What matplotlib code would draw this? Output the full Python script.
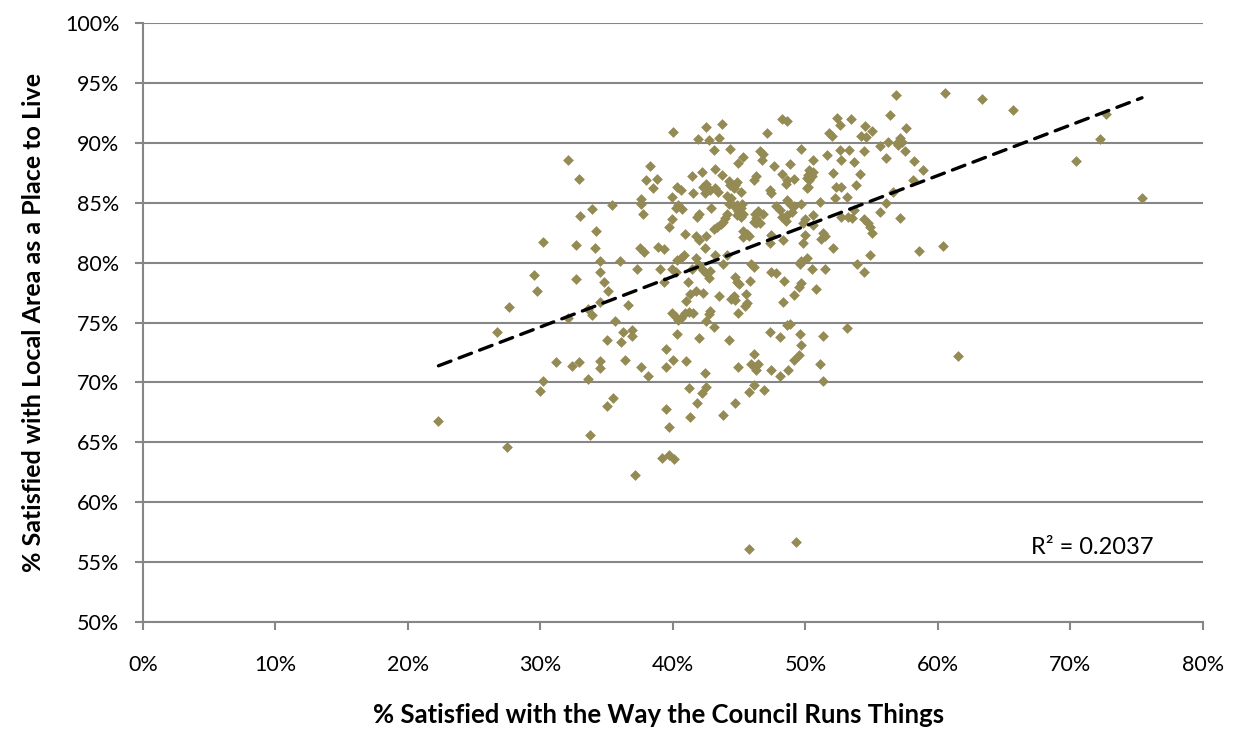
import numpy as np
import matplotlib.pyplot as plt
from matplotlib.ticker import PercentFormatter

# ---- data (percent) ----
council = [
    32.1, 32.9, 33.9, 33.0, 34.2, 30.2, 32.7, 34.1,
    29.5, 29.7, 32.7, 27.6, 33.6, 33.9, 32.1, 26.7, 31.2, 32.4, 32.9, 34.5, 34.5,
    33.6, 30.2, 30.0, 22.3, 34.5, 34.5, 27.5, 33.7,
    36.0, 34.8, 35.1, 37.3, 36.6, 34.5, 35.6, 36.2, 36.9, 36.9, 36.1, 35.0, 36.4,
    37.6, 38.1, 35.5, 35.0,
    39.0, 39.3, 39.9, 40.2, 40.3, 40.6, 40.8, 37.8, 39.3,
    41.7, 42.0, 41.4, 42.3, 42.5, 42.8, 42.7, 43.2, 44.1, 43.8, 41.1, 41.3, 41.7,
    42.3, 41.0, 43.5, 42.8, 42.7,
    39.9, 40.2, 40.4, 40.6, 40.9, 41.2, 41.5, 42.5, 43.1, 40.3, 42.0, 44.2, 39.5,
    40.0, 41.0, 39.5, 42.4, 41.2, 42.5, 42.2, 41.8, 39.5, 41.3, 43.8, 44.7, 45.7,
    46.1, 46.9, 44.9, 46.1, 45.9, 46.2, 46.4, 46.3, 47.4, 48.1, 48.7, 49.1, 49.5,
    47.3, 48.1, 48.6, 48.8, 49.6, 49.5, 49.1, 48.3, 48.4, 47.4, 47.8,
    45.9, 46.1, 44.7, 44.8, 45.0, 45.8, 45.5, 45.6, 45.4, 44.6, 44.7, 44.4, 44.9,
    39.7, 39.2, 39.7, 40.1, 37.1, 45.7, 49.3,
    40.0, 42.5, 43.7, 41.9, 42.7, 43.5, 43.1, 44.3, 47.1, 48.2, 48.6, 46.6, 46.8,
    46.7, 45.3, 44.9, 38.3, 38.0, 38.8, 38.5,
    47.6, 48.8, 48.2, 48.6, 49.1, 48.5, 42.2, 41.4, 43.2, 43.7, 44.2, 44.3, 44.6,
    46.1, 46.3, 40.3, 40.6, 39.9, 40.4, 40.2, 40.7, 41.5, 42.3, 42.5, 42.4, 42.8,
    43.2, 43.4, 44.7, 44.8, 45.1, 44.1, 44.4, 44.2, 44.6, 44.8, 45.1, 45.2, 42.9,
    37.6, 37.6, 37.7, 35.4, 41.8, 42.0, 44.1, 43.9, 43.8, 43.6, 43.3, 43.1, 44.8,
    45.1, 45.3, 44.9, 46.2, 46.4, 46.8, 46.3, 47.8, 48.1, 48.6, 48.8, 49.0, 48.6,
    48.2, 48.5, 49.1, 47.3, 47.4, 39.9, 39.7, 40.9, 41.7, 42.0, 42.5, 45.3, 45.6,
    45.7, 45.3, 46.1, 46.3, 46.6, 47.4, 48.3, 37.5, 38.9, 42.4, 47.3,
    56.8, 60.5, 63.3, 52.4, 52.6, 53.4, 56.4, 54.5, 55.0, 54.6, 54.2, 51.8, 52.0,
    57.6, 57.1, 57.3, 57.0, 56.9, 56.2, 55.6, 49.7, 52.6, 53.3, 52.7, 51.6, 54.4,
    50.6, 53.7, 56.1, 57.5, 58.2, 58.9, 50.3, 50.6, 50.2, 50.1, 50.5, 50.3, 50.2,
    50.1, 52.1, 54.1, 52.3, 52.7, 53.8, 58.1, 56.6, 52.2, 53.1, 51.1, 49.7, 56.1,
    53.7, 52.7, 53.2, 53.5, 55.6, 57.1, 54.4, 54.7, 54.9, 50.6, 50.0, 50.6, 49.8,
    55.0, 51.3, 51.5, 51.2, 50.0, 49.8, 52.1, 58.6, 60.4,
    65.7, 72.7, 72.2, 70.4, 75.4,
    50.1, 49.7, 50.5, 51.5, 49.7, 50.8, 53.9, 54.4, 54.9, 53.1, 51.3, 49.6, 49.7,
    51.1, 51.3, 61.5,
]
local_area = [
    88.6, 87.0, 84.5, 83.9, 82.6, 81.7, 81.5, 81.2,
    79.0, 77.6, 78.6, 76.3, 76.1, 75.6, 75.4, 74.2, 71.7, 71.4, 71.7, 71.8, 71.2,
    70.3, 70.1, 69.3, 66.8, 80.1, 79.2, 64.6, 65.6,
    80.1, 78.4, 77.6, 79.5, 76.5, 76.7, 75.1, 74.2, 74.4, 73.9, 73.4, 73.5, 71.9,
    71.3, 70.5, 68.7, 68.0,
    79.5, 78.4, 79.5, 79.2, 80.2, 80.4, 80.6, 80.9, 81.1,
    80.4, 79.8, 79.5, 79.4, 79.1, 79.3, 78.7, 80.6, 80.6, 79.9, 78.4, 77.4, 77.6,
    77.5, 76.8, 77.2, 76.0, 75.7,
    75.8, 75.5, 75.2, 75.4, 75.8, 75.9, 75.8, 75.1, 74.6, 74.0, 73.7, 73.5, 72.8,
    71.9, 71.8, 71.3, 70.8, 69.5, 69.6, 69.1, 68.3, 67.8, 67.1, 67.3, 68.3, 69.2,
    69.8, 69.4, 71.3, 72.4, 71.5, 71.3, 71.5, 71.0, 71.0, 70.5, 71.0, 71.9, 72.3,
    74.2, 73.8, 74.8, 74.9, 79.9, 78.0, 77.3, 76.7, 78.5, 79.2, 79.1,
    79.9, 79.6, 78.8, 78.4, 78.2, 78.5, 77.4, 76.6, 76.4, 77.2, 76.9, 77.0, 75.8,
    66.3, 63.7, 63.9, 63.6, 62.3, 56.1, 56.7,
    90.9, 91.3, 91.6, 90.3, 90.2, 90.4, 89.4, 89.5, 90.8, 92.0, 91.8, 89.3, 89.1,
    88.6, 88.8, 88.3, 88.1, 86.9, 87.0, 86.2,
    88.1, 88.2, 87.4, 86.9, 87.0, 86.6, 87.6, 87.2, 87.8, 87.3, 86.8, 86.5, 86.2,
    86.9, 87.2, 86.3, 86.1, 85.5, 84.8, 84.6, 84.5, 85.8, 86.3, 86.6, 85.8, 86.1,
    86.2, 85.9, 86.5, 86.7, 85.9, 85.6, 85.4, 84.9, 84.7, 84.8, 84.6, 84.9, 84.6,
    85.3, 84.9, 84.1, 84.8, 83.8, 84.1, 84.1, 83.7, 83.4, 83.2, 83.0, 82.8, 84.0,
    83.8, 84.1, 84.3, 84.1, 84.3, 84.1, 83.7, 84.7, 84.4, 85.2, 84.9, 84.2, 84.0,
    83.8, 83.5, 84.7, 86.1, 85.8, 83.6, 83.0, 82.4, 82.2, 81.9, 82.2, 82.6, 82.4,
    82.2, 82.1, 83.4, 83.3, 83.3, 82.3, 81.9, 81.2, 81.3, 81.2, 81.6,
    94.0, 94.2, 93.7, 92.1, 91.5, 92.0, 92.3, 91.4, 91.0, 90.5, 90.6, 90.8, 90.6,
    91.2, 90.4, 90.1, 89.8, 90.0, 90.1, 89.7, 89.5, 89.4, 89.4, 88.6, 89.0, 89.3,
    88.6, 88.4, 88.7, 89.3, 88.5, 87.7, 87.7, 87.6, 87.3, 87.1, 87.2, 86.9, 86.3,
    86.2, 87.5, 87.4, 86.3, 86.3, 86.5, 86.9, 85.9, 85.4, 85.5, 85.1, 84.9, 85.0,
    84.4, 83.8, 83.8, 83.7, 84.2, 83.7, 83.6, 83.3, 83.0, 84.0, 83.6, 83.1, 83.3,
    82.5, 82.5, 82.2, 82.0, 82.3, 81.6, 81.2, 81.0, 81.4,
    92.7, 92.4, 90.3, 88.5, 85.4,
    80.4, 80.1, 79.5, 79.5, 78.3, 77.8, 79.9, 79.2, 80.6, 74.5, 73.9, 74.0, 73.1,
    71.5, 70.1, 72.2,
]
r2_label = "R² = 0.2037"
x_label = "% Satisfied with the Way the Council Runs Things"
y_label = "% Satisfied with Local Area as a Place to Live"

x = np.array(council)
y = np.array(local_area)

plt.rcParams['font.family'] = ['Lato', 'DejaVu Sans']

fig = plt.figure(figsize=(12.38, 7.29), dpi=100)
ax = fig.add_axes([0.1155, 0.1468, 0.8562, 0.8216])

grid_col = "#868686"
ax.scatter(x, y, marker="D", s=30, color="#948A54", linewidths=0, zorder=3)

# linear trendline over the data range
slope, intercept = np.polyfit(x, y, 1)
xs = np.array([x.min(), x.max()])
ax.plot(xs, slope * xs + intercept, color="black", lw=2.4,
        linestyle=(0, (4, 2.6)), dash_capstyle="round", zorder=4)

ax.text(67.0, 56.2, r2_label, fontsize=17, va="center", ha="left")

ax.set_xlim(0, 80)
ax.set_ylim(50, 100)
ax.set_xticks(np.arange(0, 81, 10))
ax.set_yticks(np.arange(50, 101, 5))
ax.xaxis.set_major_formatter(PercentFormatter(decimals=0))
ax.yaxis.set_major_formatter(PercentFormatter(decimals=0))
ax.yaxis.grid(True, color=grid_col, lw=1.5)
ax.set_axisbelow(True)

for s in ["top", "right"]:
    ax.spines[s].set_visible(False)
for s in ["left", "bottom"]:
    ax.spines[s].set_color(grid_col)
    ax.spines[s].set_linewidth(1.5)
ax.tick_params(axis="both", colors=grid_col, length=6, width=1.5,
               labelcolor="black", labelsize=15.5)
ax.tick_params(axis="y", pad=11)
ax.tick_params(axis="x", pad=18)

ax.set_xlabel(x_label, fontsize=18.5, fontweight="bold")
ax.xaxis.set_label_coords(0.486, -0.135)
ax.set_ylabel(y_label, fontsize=18, fontweight="bold", labelpad=14)

fig.savefig("out.png", dpi=100)
